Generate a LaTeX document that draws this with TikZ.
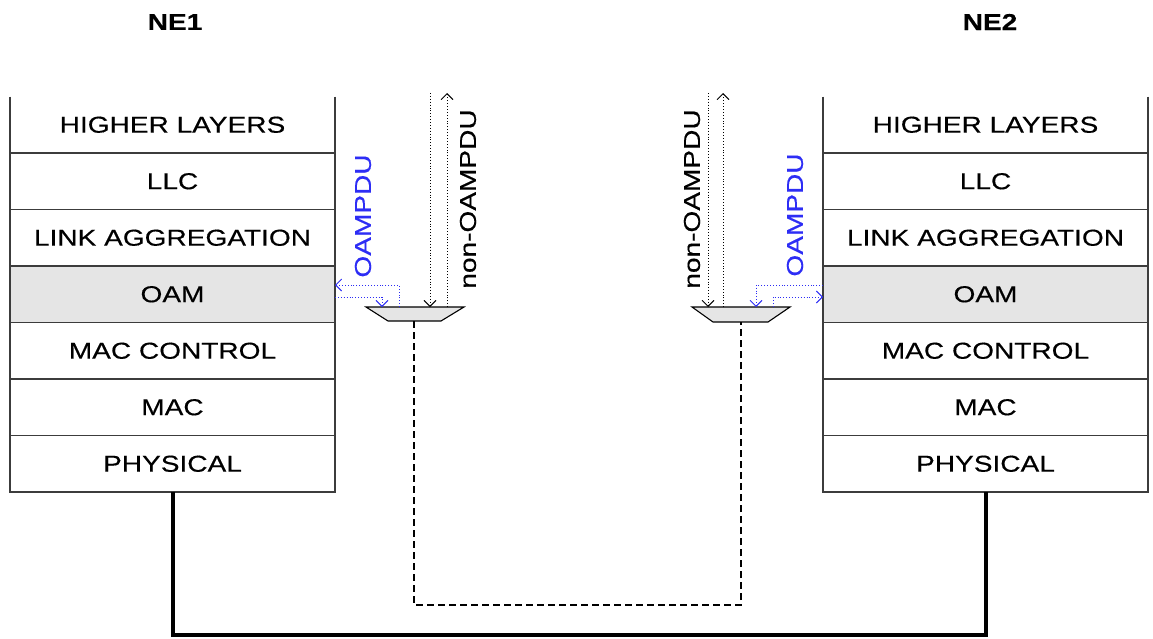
\documentclass[tikz,border=0pt]{standalone}
\usepackage{fontspec}
\setmainfont[FakeStretch=1.22, FakeBold=0.4]{Liberation Sans}
\usepackage[dvipsnames]{xcolor}
\usetikzlibrary{positioning,arrows.meta}

\definecolor{oamblue}{RGB}{45,45,245}
\definecolor{oamgray}{RGB}{229,229,229}
\definecolor{edgegray}{RGB}{60,60,60}

\tikzset{
    layer/.style={draw=edgegray, line width=1.1pt, minimum width=325pt, minimum height=56.5pt,
        inner sep=0pt, outer sep=0pt, font=\fontsize{23}{27}\selectfont},
    toplayer/.style={layer, draw=none},
    oamlayer/.style={layer, fill=oamgray},
    flow/.style={dotted, line width=0.9pt, -{Straight Barb[length=6pt,width=12pt]}},
    oamflow/.style={flow, oamblue},
    tag/.style={font=\fontsize{23}{27}\selectfont, rotate=90, inner sep=0pt},
    mux/.style={draw=black, line width=1.1pt, fill=oamgray}
}

\begin{document}
\begin{tikzpicture}[x=1pt, y=-1pt]
    \useasboundingbox (0,0) rectangle (1153,638);

    % Titles
    \node[font=\fontsize{23}{27}\selectfont\bfseries] (ne1) at (175,22) {NE1};
    \node[font=\fontsize{23}{27}\selectfont\bfseries] (ne2) at (990,22) {NE2};

    % NE1 stack
    \node[toplayer] (hl1) at (172.5,124.75) {HIGHER LAYERS};
    \node[layer, below=0pt of hl1] (llc1) {LLC};
    \node[layer, below=0pt of llc1] (lag1) {LINK AGGREGATION};
    \node[oamlayer, below=0pt of lag1] (oam1) {OAM};
    \node[layer, below=0pt of oam1] (mcc1) {MAC CONTROL};
    \node[layer, below=0pt of mcc1] (mac1) {MAC};
    \node[layer, below=0pt of mac1] (phy1) {PHYSICAL};
    \draw[edgegray, line width=1.1pt] (hl1.north west) -- (hl1.south west) (hl1.north east) -- (hl1.south east);

    % NE2 stack
    \node[toplayer] (hl2) at (985.5,124.75) {HIGHER LAYERS};
    \node[layer, below=0pt of hl2] (llc2) {LLC};
    \node[layer, below=0pt of llc2] (lag2) {LINK AGGREGATION};
    \node[oamlayer, below=0pt of lag2] (oam2) {OAM};
    \node[layer, below=0pt of oam2] (mcc2) {MAC CONTROL};
    \node[layer, below=0pt of mcc2] (mac2) {MAC};
    \node[layer, below=0pt of mac2] (phy2) {PHYSICAL};
    \draw[edgegray, line width=1.1pt] (hl2.north west) -- (hl2.south west) (hl2.north east) -- (hl2.south east);

    % Multiplexers
    \draw[mux] (366,307) -- (464,307) -- (441,321) -- (388,321) -- cycle;
    \coordinate (mux1) at (414,321);
    \draw[mux] (692,307) -- (790,307) -- (768,322) -- (713,322) -- cycle;
    \coordinate (mux2) at (741,322);

    % NE1 frame paths
    \coordinate (in1) at (430,93);
    \coordinate (out1) at (447,93);
    \draw[flow] (in1) -- (430,307);
    \draw[flow] (447,307) -- (out1);
    \draw[oamflow] (399,307) -- (399,285) -- (oam1.east |- 0,285);
    \draw[oamflow] (oam1.east |- 0,297) -- (382,297) -- (382,307);
    \node[tag] (non1) at (468,199) {non-OAMPDU};
    \node[tag, text=oamblue] (pdu1) at (363,216) {OAMPDU};

    % NE2 frame paths
    \coordinate (in2) at (708,93);
    \coordinate (out2) at (723,93);
    \draw[flow] (in2) -- (708,307);
    \draw[flow] (723,307) -- (out2);
    \draw[oamflow] (oam2.west |- 0,285) -- (756,285) -- (756,307);
    \draw[oamflow] (773,307) -- (773,297) -- (oam2.west |- 0,297);
    \node[tag] (non2) at (692,199) {non-OAMPDU};
    \node[tag, text=oamblue] (pdu2) at (795,215) {OAMPDU};

    % Links
    \draw[dashed, line width=1.8pt, dash pattern=on 7pt off 4pt] (mux1) -- (mux1 |- 0,605) -- (mux2 |- 0,605) -- (mux2);
    \draw[line width=4pt] (phy1.south) -- (phy1.south |- 0,635) -- (phy2.south |- 0,635) -- (phy2.south);
\end{tikzpicture}
\end{document}
